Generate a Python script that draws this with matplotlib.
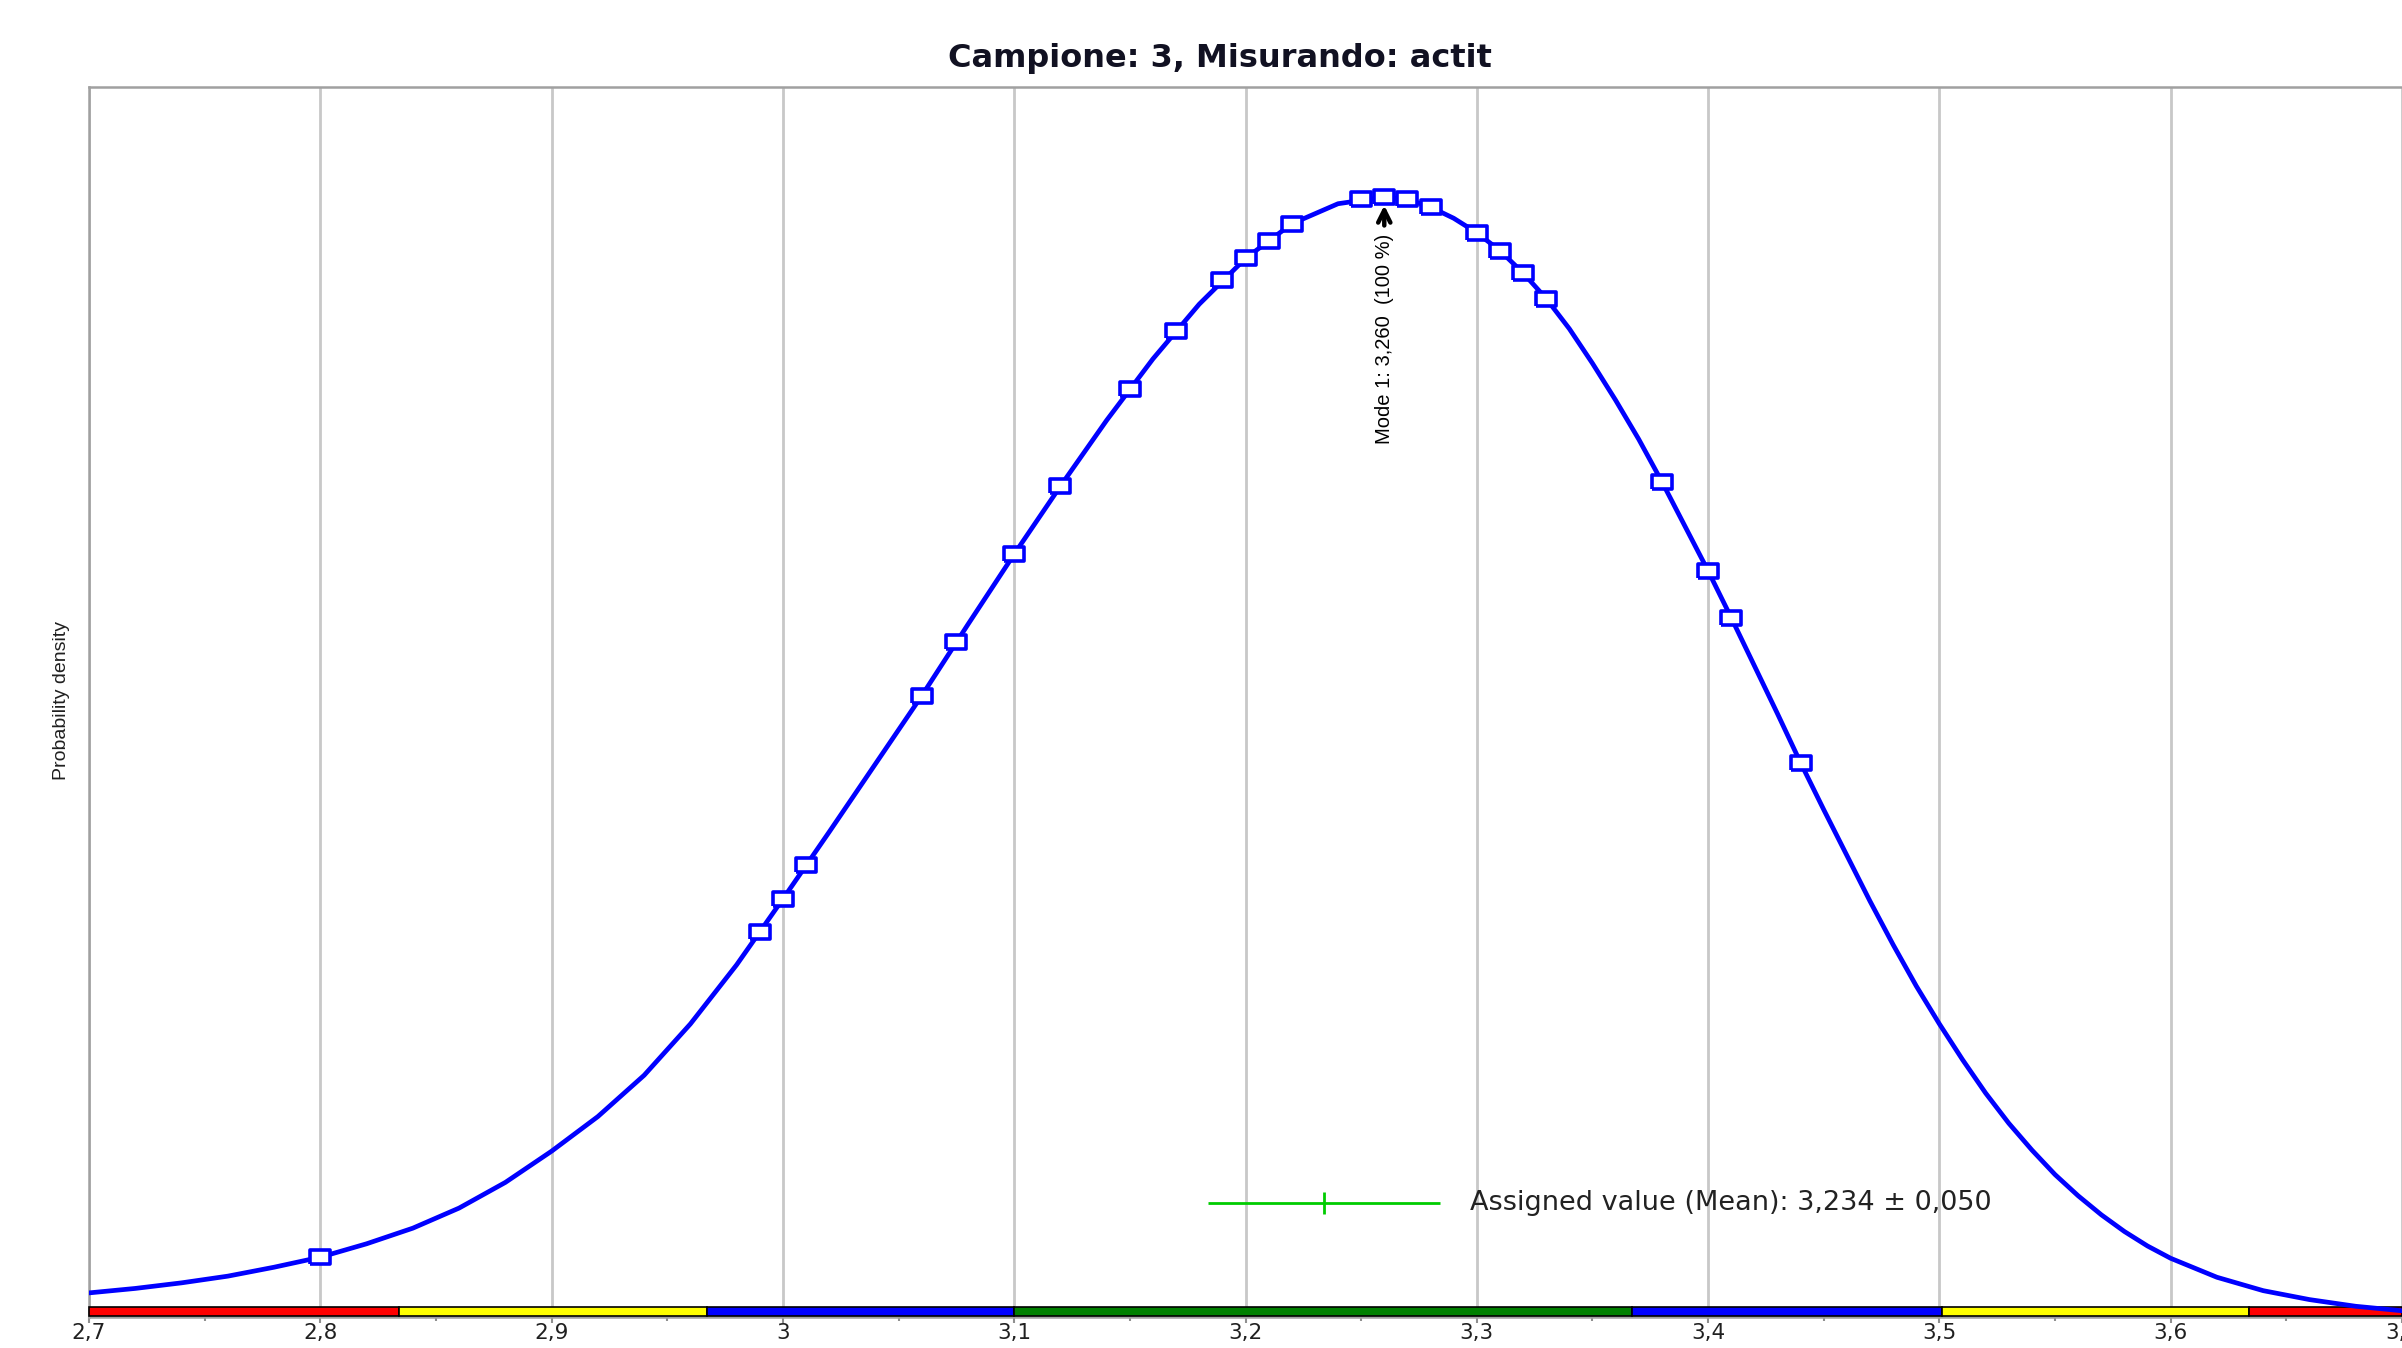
"""Probability density plot of participant results with score bands."""

import matplotlib
matplotlib.use("Agg")
import matplotlib.pyplot as plt
from matplotlib.patches import Rectangle
from matplotlib.ticker import MultipleLocator, FuncFormatter

# density curve (normalised so the mode = 1)
curve_x = [2.70, 2.72, 2.74, 2.76, 2.78, 2.80, 2.82, 2.84, 2.86, 2.88,
           2.90, 2.92, 2.94, 2.96, 2.98, 3.00, 3.02, 3.04, 3.06, 3.08,
           3.10, 3.12, 3.14, 3.16, 3.18, 3.20, 3.22, 3.24, 3.26, 3.27,
           3.28, 3.29, 3.30, 3.31, 3.32, 3.33, 3.34, 3.35, 3.36, 3.37,
           3.38, 3.39, 3.40, 3.41, 3.42, 3.43, 3.44, 3.45, 3.46, 3.47,
           3.48, 3.49, 3.50, 3.51, 3.52, 3.53, 3.54, 3.55, 3.56, 3.57,
           3.58, 3.59, 3.60, 3.62, 3.64, 3.66, 3.68, 3.70]
curve_y = [0.018, 0.022, 0.027, 0.033, 0.041, 0.050, 0.062, 0.076, 0.094, 0.117,
           0.145, 0.176, 0.213, 0.259, 0.312, 0.371, 0.431, 0.492, 0.553, 0.617,
           0.680, 0.741, 0.800, 0.855, 0.904, 0.945, 0.976, 0.994, 1.000, 0.998,
           0.991, 0.981, 0.968, 0.952, 0.932, 0.909, 0.882, 0.851, 0.818, 0.783,
           0.745, 0.705, 0.665, 0.623, 0.580, 0.537, 0.493, 0.451, 0.410, 0.369,
           0.330, 0.293, 0.259, 0.227, 0.197, 0.170, 0.146, 0.124, 0.105, 0.088,
           0.073, 0.060, 0.049, 0.032, 0.020, 0.012, 0.006, 0.002]

# participant results (markers on the curve)
results_x = [2.80, 2.99, 3.00, 3.01, 3.06, 3.075, 3.10, 3.12, 3.15, 3.17, 3.19,
             3.20, 3.21, 3.22, 3.25, 3.26, 3.27, 3.28, 3.30, 3.31, 3.32, 3.33,
             3.38, 3.40, 3.41, 3.44]
results_y = [0.050, 0.341, 0.371, 0.401, 0.553, 0.601, 0.680, 0.741, 0.828, 0.880,
             0.926, 0.945, 0.961, 0.976, 0.998, 1.000, 0.998, 0.991, 0.968, 0.952,
             0.932, 0.909, 0.745, 0.665, 0.623, 0.493]

# score bands along the x axis
band_edges = [2.700, 2.834, 2.967, 3.100, 3.367, 3.501, 3.634, 3.700]
band_colors = ["#ff0000", "#ffff00", "#0000ff", "#008000", "#0000ff", "#ffff00", "#ff0000"]

assigned_value = 3.234
assigned_unc = 0.050
mode_value = 3.260
mode_label = "Mode 1: 3,260  (100 %)"
assigned_label = "Assigned value (Mean): 3,234 \u00b1 0,050"
title = "Campione: 3, Misurando: actit"

fig = plt.figure(figsize=(24.02, 13.48), dpi=100)
ax = fig.add_axes([89 / 2402, 1 - 1317 / 1348, 1 - 89 / 2402, 1230 / 1348])
ax.set_xlim(2.7, 3.7)
ax.set_ylim(-0.0036, 1.0986)

ax.plot(curve_x, curve_y, color="#0000ff", lw=3.4, zorder=4,
        solid_joinstyle="round", solid_capstyle="round")

rect_marker = [(-1.4, -1), (1.4, -1), (1.4, 1), (-1.4, 1), (-1.4, -1)]
ax.plot(results_x, results_y, ls="none", marker=rect_marker, ms=14,
        mfc="white", mec="#0000ff", mew=2.6, zorder=5)

# score bands
trans = ax.get_xaxis_transform()
for x0, x1, c in zip(band_edges[:-1], band_edges[1:], band_colors):
    ax.add_patch(Rectangle((x0, 0.0008), x1 - x0, 0.0075, transform=trans,
                           facecolor=c, edgecolor="black", lw=1.2, zorder=3,
                           clip_on=False))

# mode annotation
ax.annotate("", xy=(mode_value, 0.995), xytext=(mode_value, 0.972),
            arrowprops=dict(arrowstyle="->", color="black", lw=3.2, mutation_scale=22),
            zorder=6)
ax.text(mode_value, 0.967, mode_label, rotation=90, ha="center", va="top",
        fontsize=14.5, family="Liberation Sans", color="black", zorder=6)

# assigned value with uncertainty
ax.errorbar([assigned_value], [0.0986], xerr=[assigned_unc], color="#00cc00",
            lw=2, capsize=0, zorder=6)
ax.plot([assigned_value], [0.0986], marker="|", ms=16, mew=2, color="#00cc00", zorder=6)
ax.text(3.297, 0.0986, assigned_label, ha="left", va="center", fontsize=19.5,
        color="#222222", zorder=6)

# axes styling
ax.xaxis.set_major_locator(MultipleLocator(0.1))
ax.xaxis.set_minor_locator(MultipleLocator(0.05))
ax.xaxis.set_major_formatter(FuncFormatter(lambda v, p: f"{v:.1f}".replace(".", ",").replace(",0", "")))
ax.tick_params(axis="x", which="major", length=4, width=1.5, color="#909090",
               labelsize=15.5, labelcolor="#202020", pad=0)
ax.tick_params(axis="x", which="minor", length=3, width=1.5, color="#909090")
ax.set_yticks([])
ax.grid(axis="x", which="major", color="#c8c8c8", lw=2, zorder=0)
ax.set_axisbelow(True)
for side in ("left", "top", "bottom"):
    ax.spines[side].set_color("#a0a0a0")
    ax.spines[side].set_linewidth(1.8)
ax.spines["right"].set_visible(False)

fig.text(1220 / 2402, 1 - 58 / 1348, title, ha="center", va="center",
         fontsize=23, fontweight="bold", color="#111122")
fig.text(62 / 2402, 1 - 701 / 1348, "Probability density", rotation=90,
         ha="center", va="center", fontsize=14, family="Liberation Sans",
         color="#202020")

fig.savefig("out.png", dpi=100)
plt.close(fig)
